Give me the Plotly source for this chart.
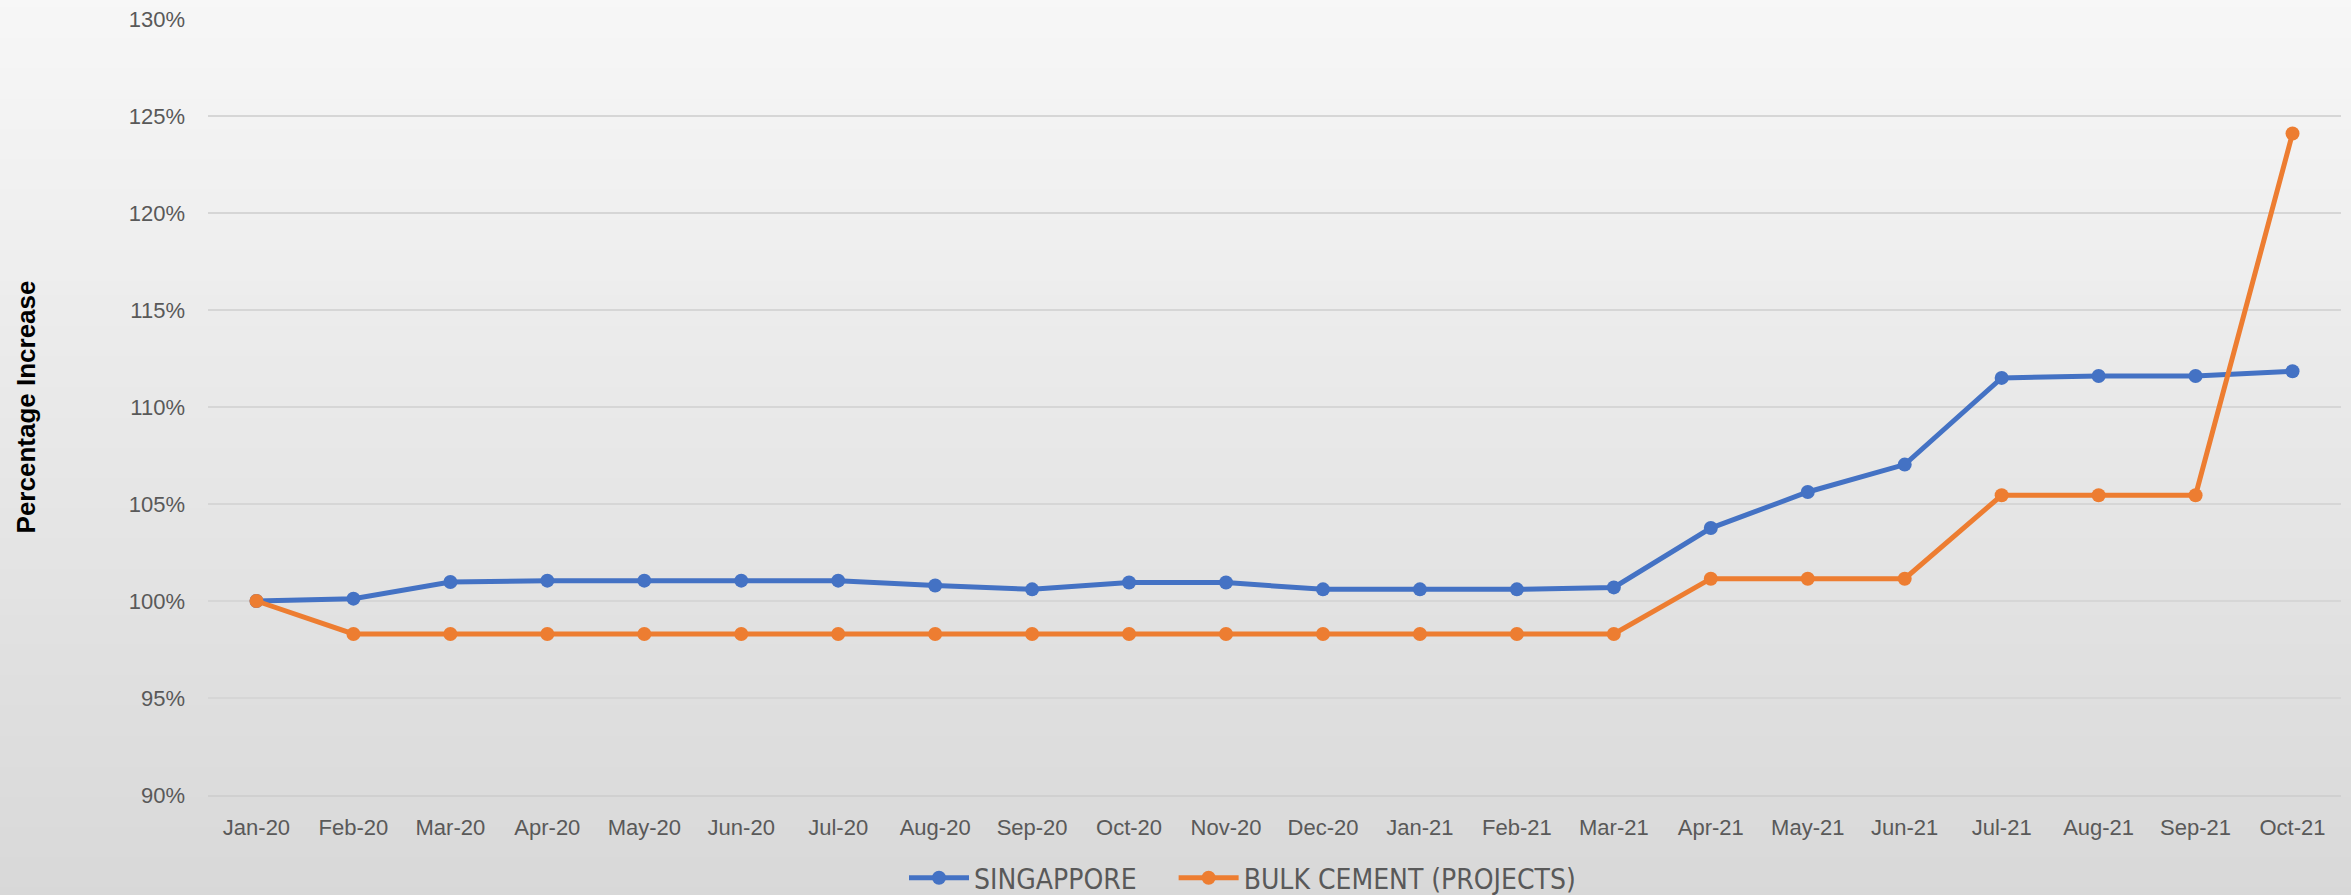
import plotly.graph_objects as go

# data (index, Jan-20 = 100%)
months = ["Jan-20", "Feb-20", "Mar-20", "Apr-20", "May-20", "Jun-20", "Jul-20", "Aug-20",
          "Sep-20", "Oct-20", "Nov-20", "Dec-20", "Jan-21", "Feb-21", "Mar-21", "Apr-21",
          "May-21", "Jun-21", "Jul-21", "Aug-21", "Sep-21", "Oct-21"]
singapore = [100.0, 100.12, 100.98, 101.05, 101.05, 101.05, 101.05, 100.8,
             100.6, 100.95, 100.95, 100.6, 100.6, 100.6, 100.7, 103.76,
             105.62, 107.03, 111.5, 111.6, 111.6, 111.84]
bulk_cement = [100.0, 98.3, 98.3, 98.3, 98.3, 98.3, 98.3, 98.3,
               98.3, 98.3, 98.3, 98.3, 98.3, 98.3, 98.3, 101.15,
               101.15, 101.15, 105.45, 105.45, 105.45, 124.1]
y_ticks = [90, 95, 100, 105, 110, 115, 120, 125, 130]

W, H = 2351, 895
M = dict(l=208, r=10, t=19, b=100, autoexpand=False)

fig = go.Figure()
# trailing nbsp widens the gap between the two legend entries
fig.add_trace(go.Scatter(x=months, y=singapore, name="SINGAPPORE\u00a0\u00a0\u00a0\u00a0", mode="lines+markers",
                         line=dict(color="#4472C4", width=5),
                         marker=dict(color="#4472C4", size=14)))
fig.add_trace(go.Scatter(x=months, y=bulk_cement, name="BULK CEMENT (PROJECTS)", mode="lines+markers",
                         line=dict(color="#ED7D31", width=5),
                         marker=dict(color="#ED7D31", size=14)))

# vertical grey gradient background, built from thin bands in paper coords
pw = W - M["l"] - M["r"]
ph = H - M["t"] - M["b"]
x0 = -M["l"] / pw - 0.01
x1 = 1 + M["r"] / pw + 0.01
ytop = 1 + M["t"] / ph + 0.01
ybot = -M["b"] / ph - 0.01
n = 60
top_c, bot_c = 247, 216
shapes = []
for i in range(n):
    f = i / (n - 1)
    c = round(top_c + (bot_c - top_c) * f)
    ya = ytop - (ytop - ybot) * i / n
    yb = ytop - (ytop - ybot) * (i + 1) / n
    shapes.append(dict(type="rect", xref="paper", yref="paper", x0=x0, x1=x1,
                       y0=yb - 0.002, y1=ya, layer="below", line=dict(width=0),
                       fillcolor=f"rgb({c},{c},{c})"))

fig.update_layout(
    width=W, height=H,
    margin=M,
    paper_bgcolor="rgb(230,230,230)",
    plot_bgcolor="rgba(0,0,0,0)",
    shapes=shapes,
    font=dict(family="Liberation Sans, Arial", color="#595959"),
    showlegend=True,
    legend=dict(orientation="h", x=0.485, xanchor="center", y=-0.107, yanchor="middle",
                font=dict(family="DejaVu Sans Condensed, Liberation Sans", size=28, color="#595959"),
                itemwidth=60, bgcolor="rgba(0,0,0,0)"),
    xaxis=dict(type="category", range=[-0.5, len(months) - 0.5], showgrid=False,
               showline=True, linecolor="#d0d0d0", linewidth=1.5, ticks="",
               tickfont=dict(size=22, color="#595959"), ticklabelstandoff=12,
               zeroline=False),
    yaxis=dict(range=[90, 130], tickvals=y_ticks, ticktext=[f"{v}%" for v in y_ticks],
               showgrid=True, gridcolor="#d6d6d6", gridwidth=1.5, zeroline=False,
               ticks="", tickfont=dict(size=22, color="#595959"), ticklabelstandoff=22,
               title=dict(text="<b>Percentage Increase</b>", standoff=85,
                          font=dict(size=26, color="#000000"))),
)

fig.write_html("out.html", config=dict(displayModeBar=False),
               post_script="document.body.style.margin='0';document.body.style.overflow='hidden';")
